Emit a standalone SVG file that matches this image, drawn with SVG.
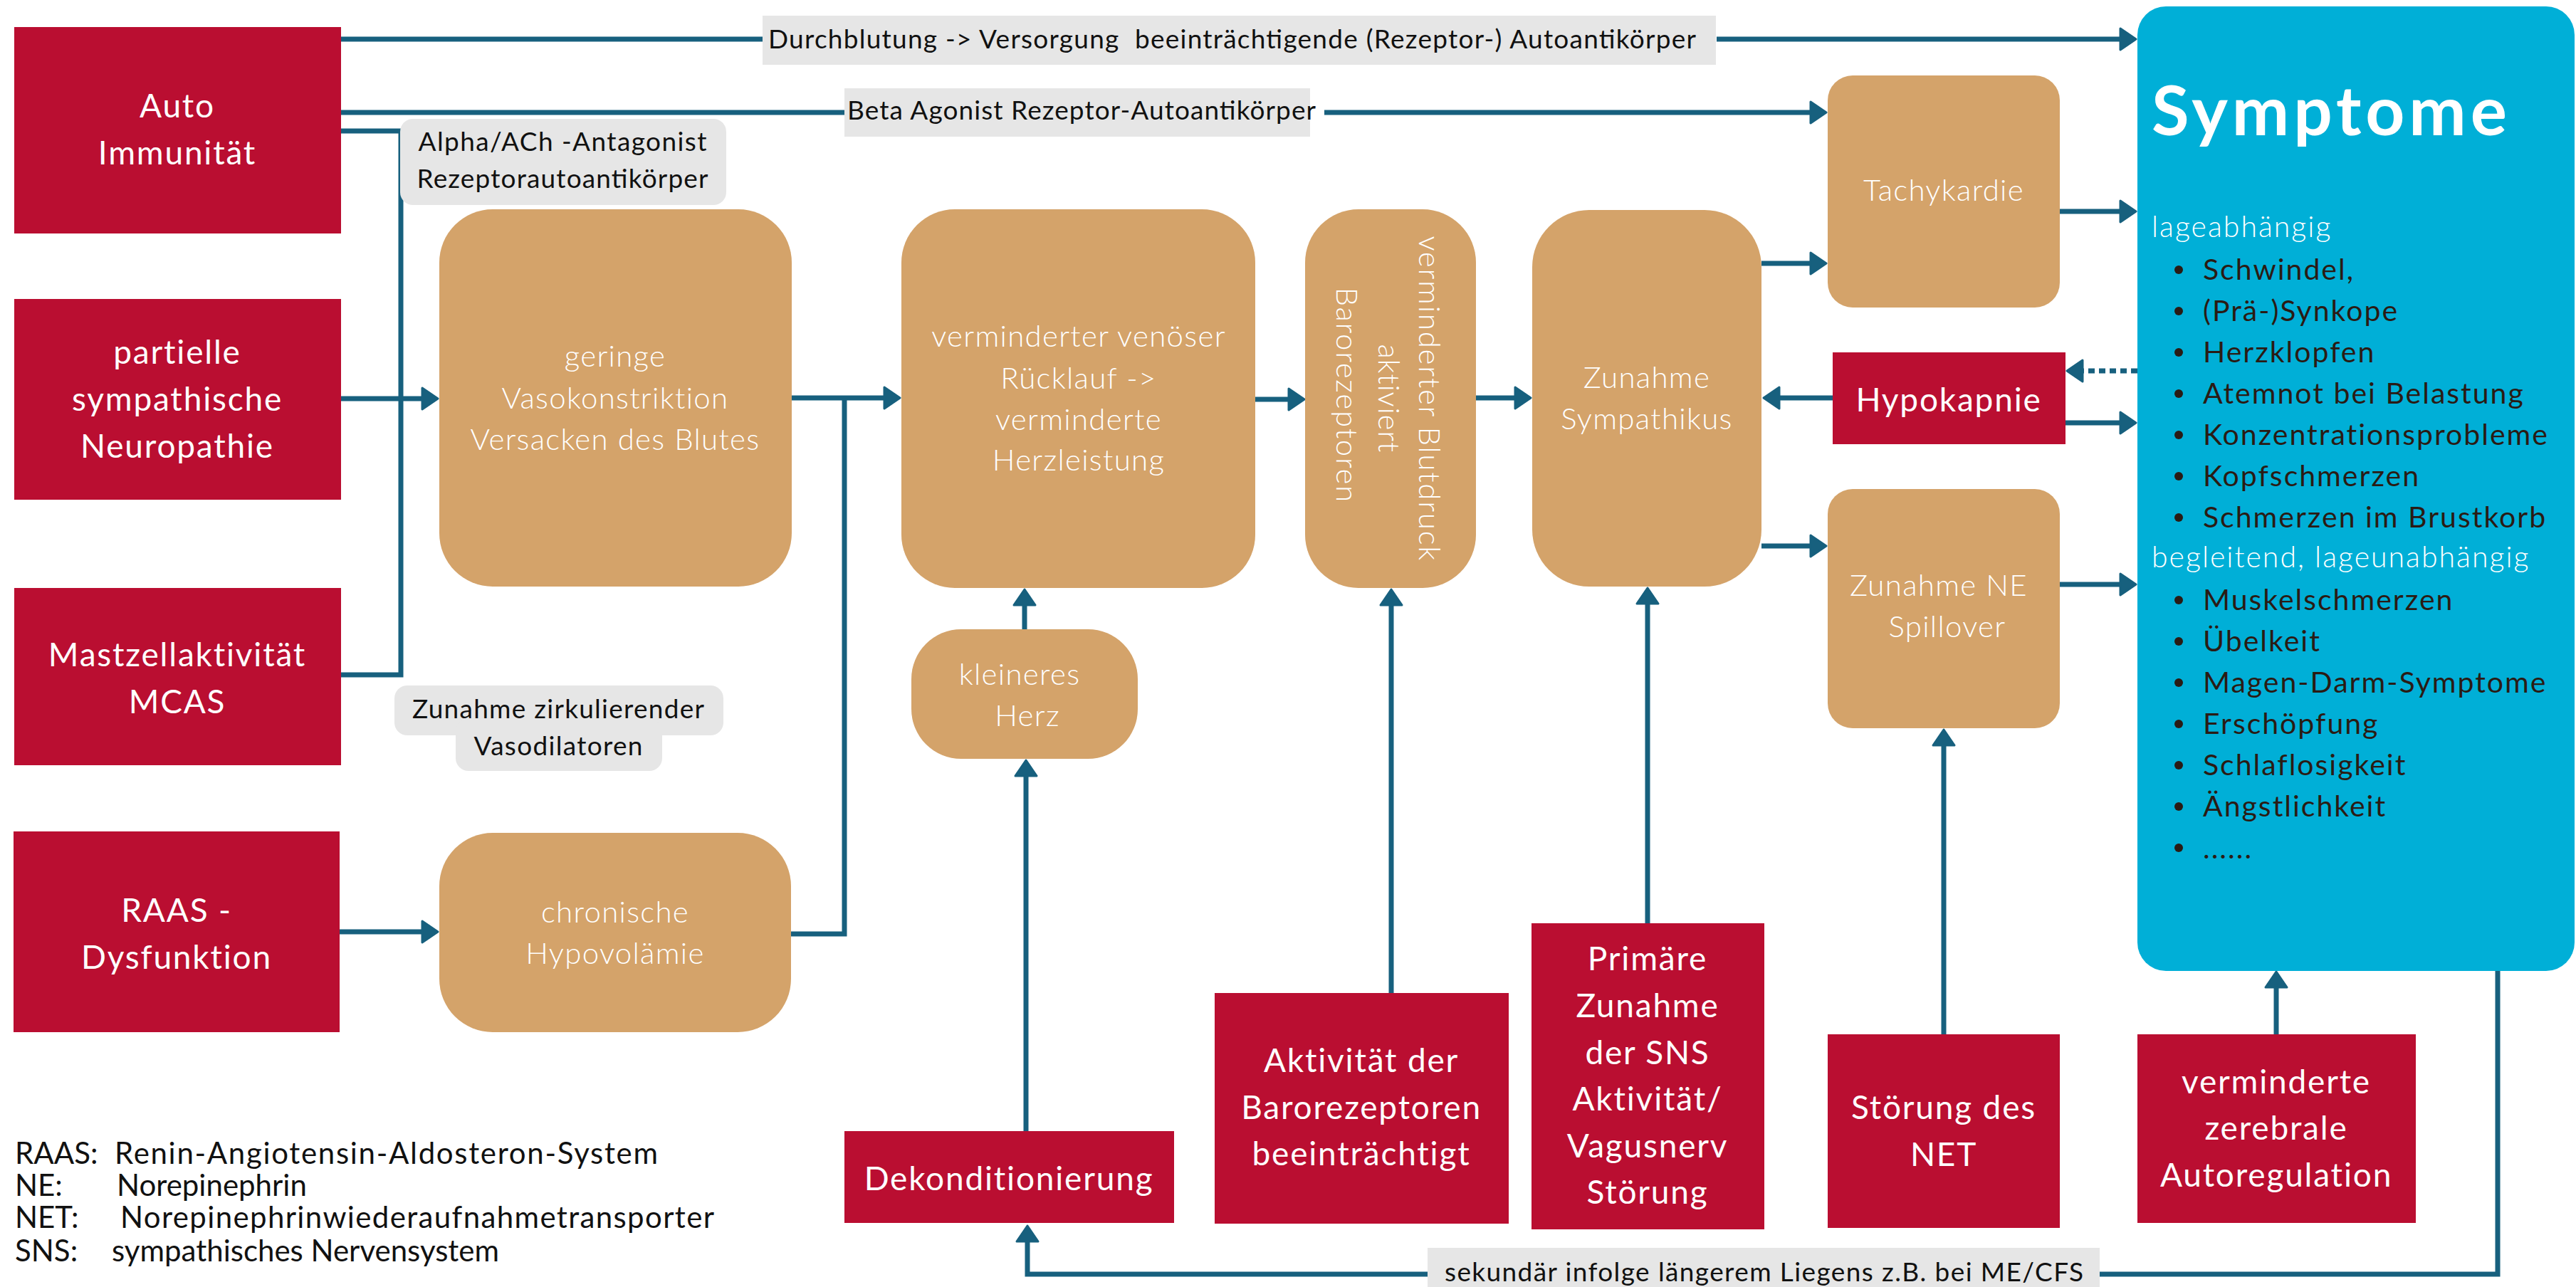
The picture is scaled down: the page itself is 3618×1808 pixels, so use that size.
<svg xmlns="http://www.w3.org/2000/svg" width="3618" height="1808" viewBox="0 0 3618 1808">
<style>
text{font-family:Lato,"Open Sans","Liberation Sans",sans-serif}
.red{fill:#BA0E31}
.tan{fill:#D4A36A}
.gray{fill:#E6E6E6}
.wr{fill:#FFFFFF;font-size:46px;text-anchor:middle;letter-spacing:1.8px}
.wt{fill:#FFFFFF;font-size:42px;text-anchor:middle;letter-spacing:1.3px;font-weight:300}
.lb{fill:#111111;font-size:37px}
.lg{fill:#111111;font-size:42px}
.sy{fill:#2A1B14;font-size:41px;letter-spacing:2px}
.sw{fill:#FFFFFF;font-size:41px;letter-spacing:2px;font-weight:300}
.ln{fill:none;stroke:#17607E;stroke-width:7}
.arr{marker-end:url(#ah)}
</style>
<defs>
<marker id="ah" viewBox="0 0 26 34" refX="14" refY="17" markerWidth="26" markerHeight="34" markerUnits="userSpaceOnUse" orient="auto">
<path d="M2,2 L24,17 L2,32 Z" fill="#17607E" stroke="#17607E" stroke-width="3" stroke-linejoin="round"/>
</marker>
</defs>

<g id="connectors">
<path class="ln" d="M479,55 H1072"/>
<path class="ln arr" d="M2411,55 H2990"/>
<path class="ln" d="M479,158 H1186"/>
<path class="ln arr" d="M1860,158 H2555"/>
<path class="ln" d="M479,184 H563 V948 H479"/>
<path class="ln arr" d="M479,560 H605"/>
<path class="ln arr" d="M477,1309 H605"/>
<path class="ln arr" d="M1112,559 H1254"/>
<path class="ln" d="M1111,1312 H1186 V559"/>
<path class="ln arr" d="M1763,561 H1822"/>
<path class="ln arr" d="M2071,559 H2140"/>
<path class="ln arr" d="M2474,370 H2555"/>
<path class="ln arr" d="M2474,767 H2555"/>
<path class="ln arr" d="M2575,559 H2487"/>
<path class="ln arr" d="M3002,521 H2913" stroke-dasharray="9 6"/>
<path class="ln arr" d="M2900,594 H2990"/>
<path class="ln arr" d="M2893,297 H2990"/>
<path class="ln arr" d="M2893,821 H2990"/>
<path class="ln arr" d="M1439,884 V838"/>
<path class="ln arr" d="M1441,1590 V1078"/>
<path class="ln arr" d="M1954,1395 V838"/>
<path class="ln arr" d="M2314,1297 V836"/>
<path class="ln arr" d="M2730,1453 V1035"/>
<path class="ln arr" d="M3197,1453 V1375"/>
<path class="ln arr" d="M3508,1363 V1790 H1443 V1732"/>
</g>

<g id="label-durchblutung">
<rect class="gray" x="1071" y="22" width="1339" height="69"/>
<text class="lb" x="1079" y="68" xml:space="preserve" textLength="1303" lengthAdjust="spacing">Durchblutung -&gt; Versorgung  beeinträchtigende (Rezeptor-) Autoantikörper</text>
</g>
<g id="label-beta">
<rect class="gray" x="1186" y="124" width="654" height="68"/>
<text class="lb" x="1190" y="168" textLength="658" lengthAdjust="spacing">Beta Agonist Rezeptor-Autoantikörper</text>
</g>
<g id="label-alpha">
<rect class="gray" x="562" y="167" width="458" height="121" rx="18"/>
<text class="lb" x="790" y="212" text-anchor="middle" textLength="405" lengthAdjust="spacing">Alpha/ACh -Antagonist</text>
<text class="lb" x="790" y="264" text-anchor="middle" textLength="409" lengthAdjust="spacing">Rezeptorautoantikörper</text>
</g>
<g id="label-vasodilatoren">
<rect class="gray" x="554" y="963" width="462" height="70" rx="18"/>
<rect class="gray" x="640" y="1010" width="290" height="73" rx="18"/>
<text class="lb" x="784" y="1009" text-anchor="middle" textLength="410" lengthAdjust="spacing">Zunahme zirkulierender</text>
<text class="lb" x="784" y="1061" text-anchor="middle" textLength="237" lengthAdjust="spacing">Vasodilatoren</text>
</g>
<g id="label-sekundaer">
<rect class="gray" x="2005" y="1753" width="944" height="55"/>
<text class="lb" x="2029" y="1800" font-size="35px" textLength="897" lengthAdjust="spacing">sekundär infolge längerem Liegens z.B. bei ME/CFS</text>
</g>

<g id="auto-immunitaet">
<rect class="red" x="20" y="38" width="459" height="290"/>
<text class="wr" x="249" y="165">Auto</text>
<text class="wr" x="249" y="231">Immunität</text>
</g>
<g id="partielle-neuropathie">
<rect class="red" x="20" y="420" width="459" height="282"/>
<text class="wr" x="249" y="511">partielle</text>
<text class="wr" x="249" y="577">sympathische</text>
<text class="wr" x="249" y="643">Neuropathie</text>
</g>
<g id="mastzell">
<rect class="red" x="20" y="826" width="459" height="249"/>
<text class="wr" x="249" y="936">Mastzellaktivität</text>
<text class="wr" x="249" y="1002">MCAS</text>
</g>
<g id="raas">
<rect class="red" x="19" y="1168" width="458" height="282"/>
<text class="wr" x="248" y="1295">RAAS -</text>
<text class="wr" x="248" y="1361">Dysfunktion</text>
</g>

<g id="geringe-vasokonstriktion">
<rect class="tan" x="617" y="294" width="495" height="530" rx="75"/>
<text class="wt" x="864" y="515">geringe</text>
<text class="wt" x="864" y="574">Vasokonstriktion</text>
<text class="wt" x="864" y="632">Versacken des Blutes</text>
</g>
<g id="hypovolaemie">
<rect class="tan" x="617" y="1170" width="494" height="280" rx="75"/>
<text class="wt" x="864" y="1296">chronische</text>
<text class="wt" x="864" y="1354">Hypovolämie</text>
</g>
<g id="venoeser-ruecklauf">
<rect class="tan" x="1266" y="294" width="497" height="532" rx="75"/>
<text class="wt" x="1515" y="487">verminderter venöser</text>
<text class="wt" x="1515" y="546">Rücklauf -&gt;</text>
<text class="wt" x="1515" y="604">verminderte</text>
<text class="wt" x="1515" y="661">Herzleistung</text>
</g>
<g id="kleineres-herz">
<rect class="tan" x="1280" y="884" width="318" height="182" rx="70"/>
<text class="wt" x="1432" y="962">kleineres</text>
<text class="wt" x="1443" y="1020">Herz</text>
</g>
<g id="blutdruck">
<rect class="tan" x="1833" y="294" width="240" height="532" rx="75"/>
<text class="wt" transform="translate(1993,560) rotate(90)" textLength="457" lengthAdjust="spacing">verminderter Blutdruck</text>
<text class="wt" transform="translate(1936,560) rotate(90)" textLength="153" lengthAdjust="spacing">aktiviert</text>
<text class="wt" transform="translate(1877,555) rotate(90)" textLength="303" lengthAdjust="spacing">Barorezeptoren</text>
</g>
<g id="zunahme-sympathikus">
<rect class="tan" x="2152" y="295" width="322" height="529" rx="80"/>
<text class="wt" x="2313" y="545">Zunahme</text>
<text class="wt" x="2313" y="603">Sympathikus</text>
</g>
<g id="tachykardie">
<rect class="tan" x="2567" y="106" width="326" height="326" rx="35"/>
<text class="wt" x="2730" y="282">Tachykardie</text>
</g>
<g id="hypokapnie">
<rect class="red" x="2574" y="495" width="327" height="129"/>
<text class="wr" x="2737" y="578">Hypokapnie</text>
</g>
<g id="ne-spillover">
<rect class="tan" x="2567" y="687" width="326" height="336" rx="35"/>
<text class="wt" x="2723" y="837">Zunahme NE</text>
<text class="wt" x="2735" y="895">Spillover</text>
</g>

<g id="dekonditionierung">
<rect class="red" x="1186" y="1589" width="463" height="129"/>
<text class="wr" x="1417" y="1672">Dekonditionierung</text>
</g>
<g id="aktivitaet-barorezeptoren">
<rect class="red" x="1706" y="1395" width="413" height="324"/>
<text class="wr" x="1912" y="1506">Aktivität der</text>
<text class="wr" x="1912" y="1572">Barorezeptoren</text>
<text class="wr" x="1912" y="1637">beeinträchtigt</text>
</g>
<g id="primaere-sns">
<rect class="red" x="2151" y="1297" width="327" height="430"/>
<text class="wr" x="2314" y="1363">Primäre</text>
<text class="wr" x="2314" y="1429">Zunahme</text>
<text class="wr" x="2314" y="1495">der SNS</text>
<text class="wr" x="2314" y="1560">Aktivität/</text>
<text class="wr" x="2314" y="1626">Vagusnerv</text>
<text class="wr" x="2314" y="1691">Störung</text>
</g>
<g id="stoerung-net">
<rect class="red" x="2567" y="1453" width="326" height="272"/>
<text class="wr" x="2730" y="1572">Störung des</text>
<text class="wr" x="2730" y="1638">NET</text>
</g>
<g id="zerebrale-autoregulation">
<rect class="red" x="3002" y="1453" width="391" height="265"/>
<text class="wr" x="3197" y="1536">verminderte</text>
<text class="wr" x="3197" y="1601">zerebrale</text>
<text class="wr" x="3197" y="1667">Autoregulation</text>
</g>

<g id="symptome">
<rect x="3002" y="9" width="614" height="1355" rx="40" fill="#00AFD7"/>
<text x="3022" y="190" fill="#FFFFFF" font-size="96px" font-weight="bold" textLength="499" lengthAdjust="spacing">Symptome</text>
<text class="sw" x="3022" y="333">lageabhängig</text>
<g fill="#2A1B14">
<circle cx="3060" cy="379" r="6"/><circle cx="3060" cy="437" r="6"/><circle cx="3060" cy="495" r="6"/>
<circle cx="3060" cy="553" r="6"/><circle cx="3060" cy="611" r="6"/><circle cx="3060" cy="669" r="6"/>
<circle cx="3060" cy="727" r="6"/><circle cx="3060" cy="843" r="6"/><circle cx="3060" cy="901" r="6"/>
<circle cx="3060" cy="959" r="6"/><circle cx="3060" cy="1017" r="6"/><circle cx="3060" cy="1075" r="6"/>
<circle cx="3060" cy="1133" r="6"/><circle cx="3060" cy="1191" r="6"/>
</g>
<text class="sy" x="3094" y="393">Schwindel,</text>
<text class="sy" x="3094" y="451">(Prä-)Synkope</text>
<text class="sy" x="3094" y="509">Herzklopfen</text>
<text class="sy" x="3094" y="567">Atemnot bei Belastung</text>
<text class="sy" x="3094" y="625">Konzentrationsprobleme</text>
<text class="sy" x="3094" y="683">Kopfschmerzen</text>
<text class="sy" x="3094" y="741">Schmerzen im Brustkorb</text>
<text class="sw" x="3022" y="797">begleitend, lageunabhängig</text>
<text class="sy" x="3094" y="857">Muskelschmerzen</text>
<text class="sy" x="3094" y="915">Übelkeit</text>
<text class="sy" x="3094" y="973">Magen-Darm-Symptome</text>
<text class="sy" x="3094" y="1031">Erschöpfung</text>
<text class="sy" x="3094" y="1089">Schlaflosigkeit</text>
<text class="sy" x="3094" y="1147">Ängstlichkeit</text>
<text class="sy" x="3094" y="1206" font-size="18px">......</text>
</g>

<g id="legende">
<text class="lg" y="1635"><tspan x="21">RAAS:</tspan><tspan x="161" textLength="763" lengthAdjust="spacing">Renin-Angiotensin-Aldosteron-System</tspan></text>
<text class="lg" y="1680"><tspan x="21">NE:</tspan><tspan x="164">Norepinephrin</tspan></text>
<text class="lg" y="1725"><tspan x="21">NET:</tspan><tspan x="169" textLength="834" lengthAdjust="spacing">Norepinephrinwiederaufnahmetransporter</tspan></text>
<text class="lg" y="1772"><tspan x="21">SNS:</tspan><tspan x="157">sympathisches Nervensystem</tspan></text>
</g>
</svg>
